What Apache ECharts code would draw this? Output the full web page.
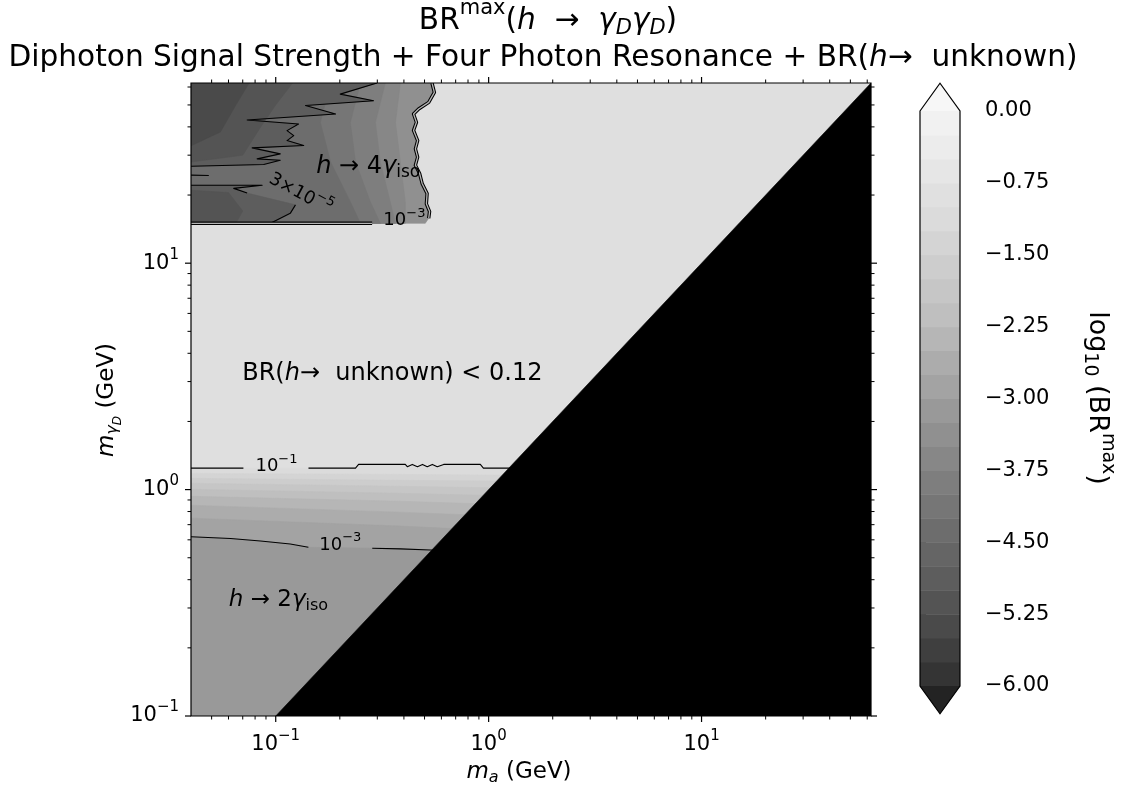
<!DOCTYPE html>
<html>
<head>
<meta charset="utf-8">
<script src="https://cdn.jsdelivr.net/npm/echarts@6/dist/echarts.min.js"></script>
<style>
  html, body { margin: 0; padding: 0; background: #ffffff; }
  #chart { width: 1129px; height: 787px; }
</style>
</head>
<body>
<div id="chart"></div>
<script>
// ---------------- axis ranges and ticks (GeV) ----------------
const maRange = [0.04, 62.5];
const mgdRange = [0.1, 62.5];
const majorTicks = [0.1, 1, 10];
const xMinorTicks = [0.05, 0.06, 0.07, 0.08, 0.09, 0.2, 0.3, 0.4, 0.5, 0.6, 0.7, 0.8, 0.9,
                     2, 3, 4, 5, 6, 7, 8, 9, 20, 30, 40, 50, 60];
const yMinorTicks = [0.2, 0.3, 0.4, 0.5, 0.6, 0.7, 0.8, 0.9,
                     2, 3, 4, 5, 6, 7, 8, 9, 20, 30, 40, 50, 60];

// colour bar: filled-contour levels of log10(BR) and labelled ticks
const cbarLevels = [-6, -5.75, -5.5, -5.25, -5, -4.75, -4.5, -4.25, -4, -3.75, -3.5, -3.25, -3,
                    -2.75, -2.5, -2.25, -2, -1.75, -1.5, -1.25, -1, -0.75, -0.5, -0.25, 0];
const cbarTicks = [0, -0.75, -1.5, -2.25, -3, -3.75, -4.5, -5.25, -6];

// ---------------- BR(h -> unknown) < 0.12 plateau ----------------
const unknownLevel = -0.92;

// ---------------- h -> 2 gamma_iso region (small m_gammaD) ----------------
// 10^-1 contour, upper edge of the region
const lowContour1 = [[0.04, 1.244], [0.237, 1.244], [0.245, 1.292], [0.406, 1.292], [0.415, 1.262],
                     [0.438, 1.292], [0.463, 1.262], [0.489, 1.292], [0.515, 1.262], [0.544, 1.292],
                     [0.574, 1.262], [0.615, 1.292], [0.914, 1.292], [0.945, 1.244], [1.3, 1.244]];
const lowContour1Gap = [0.0705, 0.1425];
// 10^-3 contour
const lowContour3 = [[0.04, 0.619], [0.0613, 0.608], [0.0848, 0.593], [0.117, 0.575], [0.1424, 0.556],
                     [0.284, 0.551], [0.385, 0.547], [0.532, 0.541], [0.7, 0.535]];
// band edges between the two contours, given at lowEdgeX
const lowEdgeX = [0.04, 0.385, 1.5];
const lowBandEdges = [
  [1.179, 1.167, 1.156],
  [1.121, 1.099, 1.088],
  [1.066, 1.034, 1.013],
  [1.003, 0.963, 0.934],
  [0.934, 0.888, 0.853],
  [0.853, 0.795, 0.756],
  [0.748, 0.690, 0.649]
];
// band values (log10 BR) below the 10^-1 contour, each edge, and the 10^-3 contour
const lowBandMid = [-1.125, -1.375, -1.625, -1.875, -2.125, -2.375, -2.625, -2.875, -3.125];

// ---------------- h -> 4 gamma_iso region (large m_gammaD, small m_a) ----------------
const upOuterRight = [[0.542, 62.5], [0.556, 56.8], [0.523, 51.3], [0.469, 48.0], [0.444, 45.6],
                      [0.458, 41.9], [0.444, 38.6], [0.464, 34.8], [0.453, 32.0], [0.464, 29.4],
                      [0.453, 27.1], [0.474, 24.9], [0.487, 22.5], [0.514, 20.3], [0.510, 18.3],
                      [0.528, 16.9], [0.523, 15.8], [0.504, 15.0]];
const upFloor = 15.0;
const upFloorGap = [0.2836, 0.504];
const upBaseMid = -3.375;
const upNodesY = [62.5, 41.9, 28.0, 18.7, 15.0];
const upBandEdges = [
  [0.385, 0.365, 0.385, 0.406, 0.406],
  [0.327, 0.294, 0.310, 0.345, 0.365],
  [0.250, 0.224, 0.237, 0.278, 0.310],
  [0.181, 0.162, 0.181, 0.224, 0.250]
];
const upBandMid = [-3.625, -3.875, -4.125, -4.375];
// 3x10^-5 contour pieces
const upC5Top = [[0.299, 62.5], [0.201, 55.8], [0.288, 52.2], [0.138, 49.7], [0.191, 45.6], [0.0734, 42.9],
                 [0.128, 41.2], [0.113, 38.5], [0.1215, 36.6], [0.113, 34.8], [0.1353, 33.1],
                 [0.0775, 32.3], [0.105, 30.4], [0.0818, 28.9], [0.105, 28.5], [0.0878, 27.3], [0.04, 26.8]];
const upC5BottomA = [[0.04, 22.1], [0.0863, 22.1], [0.0635, 21.4], [0.0734, 20.4]];
const upC5BottomB = [[0.1238, 18.1], [0.117, 16.6], [0.0997, 15.4], [0.0944, 15.0]];
const upC5Stub = [[0.04, 24.5], [0.0485, 24.4]];
const upC5Mid = -4.875;
const upDeep = [
  [[0.04, 62.5], [0.12, 62.5], [0.1, 50], [0.085, 40], [0.07, 30], [0.04, 28]],
  [[0.04, 62.5], [0.075, 62.5], [0.065, 50], [0.055, 38], [0.04, 33]],
  [[0.04, 21], [0.06, 20.5], [0.07, 17], [0.065, 15], [0.04, 15]]
];
const upDeepMid = [-5.125, -5.375, -5.125];

// kinematically closed corner m_gammaD < m_a
const closedCorner = [[0.1, 0.1], [62.5, 62.5], [62.5, 0.1]];

// in-plot labels: [x, y] in GeV
const labelPos = {
  fourIso: [0.272, 26.6],
  c5: [0.1307, 20.2],
  upC3: [0.402, 15.4],
  lowC1: [0.1008, 1.266],
  lowC3: [0.201, 0.569],
  unknown: [0.353, 3.25],
  twoIso: [0.103, 0.326]
};

// ---------------- styling helpers ----------------
const FONT = 'DejaVu Sans';
const greyRamp = [0, 37, 82, 115, 150, 189, 217, 240, 255];
function levelColour(v) {
  let t = 0.15 + 0.75 * (v + 6) / 6;
  t = Math.max(0, Math.min(1, t));
  const p = t * 8, i = Math.min(7, Math.floor(p)), f = p - i;
  const g = Math.round(greyRamp[i] + (greyRamp[i + 1] - greyRamp[i]) * f);
  return 'rgb(' + g + ',' + g + ',' + g + ')';
}
function richSet(size) {
  const s = Math.round(size * 0.7);
  const base = { fontFamily: FONT, color: '#000', fill: '#000', verticalAlign: 'middle' };
  return {
    n: Object.assign({}, base, { fontSize: size }),
    i: Object.assign({}, base, { fontSize: size, fontStyle: 'italic' }),
    sup: Object.assign({}, base, { fontSize: s, padding: [0, 0, Math.round(size * 0.8), 0] }),
    sub: Object.assign({}, base, { fontSize: s, padding: [Math.round(size * 0.5), 0, 0, 0] }),
    isub: Object.assign({}, base, { fontSize: s, fontStyle: 'italic', padding: [Math.round(size * 0.5), 0, 0, 0] }),
    iss: Object.assign({}, base, { fontSize: Math.round(size * 0.5), fontStyle: 'italic', padding: [Math.round(size * 0.95), 0, 0, 0] })
  };
}
function powLabel(v) {
  const l = Math.log10(v), e = Math.round(l);
  if (Math.abs(l - e) > 1e-6) return '';
  return '{n|10}{sup|' + (e < 0 ? '\u2212' : '') + Math.abs(e) + '}';
}

// ---------------- assemble filled regions and contour lines ----------------
const fills = [];
const strokes = [];
const [X0, X1] = maRange, [Y0, Y1] = mgdRange;

fills.push({ pts: [[X0, Y0], [X1, Y0], [X1, Y1], [X0, Y1]], fill: levelColour(unknownLevel) });

// low region bands
const lowTops = [lowContour1].concat(lowBandEdges.map(r => r.map((y, j) => [lowEdgeX[j], y]))).concat([lowContour3]);
lowTops.forEach((top, k) => {
  const pts = top.concat([[top[top.length - 1][0], Y0], [top[0][0], Y0]]);
  fills.push({ pts: pts, fill: levelColour(lowBandMid[k]) });
});

// high region
const upOuter = [[X0, Y1]].concat(upOuterRight).concat([[X0, upFloor]]);
fills.push({ pts: upOuter, fill: levelColour(upBaseMid) });
upBandEdges.forEach((row, k) => {
  const pts = [[X0, Y1]].concat(row.map((x, j) => [x, upNodesY[j]])).concat([[X0, upFloor]]);
  fills.push({ pts: pts, fill: levelColour(upBandMid[k]) });
});
fills.push({ pts: [[X0, Y1]].concat(upC5Top), fill: levelColour(upC5Mid) });
fills.push({ pts: upC5BottomA.concat(upC5BottomB).concat([[X0, upFloor]]), fill: levelColour(upC5Mid) });
upDeep.forEach((poly, k) => fills.push({ pts: poly, fill: levelColour(upDeepMid[k]) }));

// contour lines
const thin = 1.1;
strokes.push({ pts: lowContour1.filter(p => p[0] <= lowContour1Gap[0]).concat([[lowContour1Gap[0], lowContour1[0][1]]]), w: thin });
strokes.push({ pts: [[lowContour1Gap[1], lowContour1[0][1]]].concat(lowContour1.filter(p => p[0] >= lowContour1Gap[1])), w: thin });
strokes.push({ pts: lowContour3.slice(0, 5), w: thin });
strokes.push({ pts: lowContour3.slice(5), w: thin });
strokes.push({ pts: upC5Top, w: thin });
strokes.push({ pts: upC5BottomA, w: thin });
strokes.push({ pts: upC5BottomB, w: thin });
strokes.push({ pts: upC5Stub, w: thin });
// the 10^-1 and 10^-3 contours run side by side around the high region
const outerA = upOuterRight.slice(0, upOuterRight.length - 1);
const outerB = [[upFloorGap[0], upFloor], [X0, upFloor]];
[outerA, outerB].forEach(p => {
  strokes.push({ pts: p, w: 3.4, c: '#000' });
  strokes.push({ pts: p, w: 1.3, c: '#b4b4b4' });
});

const shapes = fills.concat(strokes.map(s => ({ pts: s.pts, stroke: s.c || '#000', w: s.w })))
  .concat([{ pts: closedCorner, fill: '#000' }]);

// ---------------- in-plot text ----------------
const r23 = richSet(23), r24 = richSet(24), r18 = richSet(18);
const plotLabels = [
  { pos: labelPos.fourIso, text: '{i|h}{n| \u2192 4}{i|\u03b3}{sub|iso}', rich: r24, rot: 0 },
  { pos: labelPos.c5, text: '{n|3\u00d710}{sup|\u22125}', rich: r18, rot: -0.49 },
  { pos: labelPos.upC3, text: '{n|10}{sup|\u22123}', rich: r18, rot: 0 },
  { pos: labelPos.lowC1, text: '{n|10}{sup|\u22121}', rich: r18, rot: 0 },
  { pos: labelPos.lowC3, text: '{n|10}{sup|\u22123}', rich: r18, rot: 0 },
  { pos: labelPos.unknown, text: '{n|BR(}{i|h}{n|\u2192  unknown) < 0.12}', rich: r24, rot: 0 },
  { pos: labelPos.twoIso, text: '{i|h}{n| \u2192 2}{i|\u03b3}{sub|iso}', rich: r23, rot: 0 }
];

const tickRich = richSet(21);
const chart = echarts.init(document.getElementById('chart'), null, { renderer: 'canvas' });

const option = {
  animation: false,
  backgroundColor: '#ffffff',
  grid: [
    { left: 191, top: 83, width: 680, height: 633 },
    { left: 920, top: 111, width: 40, height: 575 }
  ],
  xAxis: [
    { type: 'log', logBase: 10, gridIndex: 0, min: X0, max: X1,
      axisLine: { show: false }, axisTick: { show: false }, splitLine: { show: false },
      axisLabel: { formatter: powLabel, rich: tickRich, margin: 13, color: '#000', fontFamily: FONT, fontSize: 21 } },
    { type: 'value', gridIndex: 1, min: 0, max: 1, show: false }
  ],
  yAxis: [
    { type: 'log', logBase: 10, gridIndex: 0, min: Y0, max: Y1,
      axisLine: { show: false }, axisTick: { show: false }, splitLine: { show: false },
      axisLabel: { formatter: powLabel, rich: tickRich, margin: 12, color: '#000', fontFamily: FONT, fontSize: 21 } },
    { type: 'value', gridIndex: 1, min: -6, max: 0, interval: 0.75, position: 'right',
      axisLine: { show: false }, splitLine: { show: false },
      axisTick: { show: true, length: 6, lineStyle: { color: '#000', width: 1.2 } },
      axisLabel: { margin: 25, color: '#000', fontFamily: FONT, fontSize: 21,
        formatter: v => (v < 0 ? '\u2212' : '') + Math.abs(v).toFixed(2) } }
  ],
  series: [
    { // filled regions, contour lines and closed corner
      type: 'custom', coordinateSystem: 'cartesian2d', xAxisIndex: 0, yAxisIndex: 0,
      silent: true, clip: true,
      data: shapes.map((s, i) => [1, 1, i]),
      encode: { x: 0, y: 1 },
      renderItem: (params, api) => {
        const s = shapes[params.dataIndex];
        const pts = s.pts.map(p => api.coord(p));
        if (s.fill) {
          return { type: 'polygon', shape: { points: pts }, style: { fill: s.fill, stroke: s.fill, lineWidth: 0.6 } };
        }
        return { type: 'polyline', shape: { points: pts }, style: { fill: null, stroke: s.stroke, lineWidth: s.w, lineJoin: 'round' } };
      }
    },
    { // labels inside the plot
      type: 'custom', coordinateSystem: 'cartesian2d', xAxisIndex: 0, yAxisIndex: 0,
      silent: true,
      data: plotLabels.map((l, i) => [1, 1, i]),
      encode: { x: 0, y: 1 },
      renderItem: (params, api) => {
        const l = plotLabels[params.dataIndex];
        const c = api.coord(l.pos);
        return { type: 'text', x: c[0], y: c[1], rotation: l.rot,
          style: { text: l.text, rich: l.rich, align: 'center', verticalAlign: 'middle' } };
      }
    },
    { // frame and ticks on all four sides
      type: 'custom', coordinateSystem: 'cartesian2d', xAxisIndex: 0, yAxisIndex: 0,
      silent: true, clip: false,
      data: [[1, 1]],
      renderItem: (params, api) => {
        const ch = [];
        const a = api.coord([X0, Y0]), b = api.coord([X1, Y1]);
        const L = a[0], B = a[1], R = b[0], T = b[1];
        const ln = (x1, y1, x2, y2, w) => ch.push({ type: 'line', shape: { x1, y1, x2, y2 }, style: { stroke: '#000', lineWidth: w } });
        majorTicks.forEach(v => {
          const x = api.coord([v, Y0])[0];
          ln(x, B, x, B + 6, 1.2); ln(x, T, x, T - 6, 1.2);
          const y = api.coord([X0, v])[1];
          if (v > Y0 - 1e-9) { ln(L, y, L - 6, y, 1.2); ln(R, y, R + 6, y, 1.2); }
        });
        xMinorTicks.forEach(v => {
          const x = api.coord([v, Y0])[0];
          ln(x, B, x, B + 3.5, 1); ln(x, T, x, T - 3.5, 1);
        });
        yMinorTicks.forEach(v => {
          const y = api.coord([X0, v])[1];
          ln(L, y, L - 3.5, y, 1); ln(R, y, R + 3.5, y, 1);
        });
        ch.push({ type: 'rect', shape: { x: L, y: T, width: R - L, height: B - T }, style: { fill: null, stroke: '#000', lineWidth: 1.2 } });
        return { type: 'group', children: ch };
      }
    },
    { // colour bar with extension arrows
      type: 'custom', coordinateSystem: 'cartesian2d', xAxisIndex: 1, yAxisIndex: 1,
      silent: true, clip: false,
      data: [[0.5, -3]],
      renderItem: (params, api) => {
        const ch = [];
        for (let k = 0; k < cbarLevels.length - 1; k++) {
          const p0 = api.coord([0, cbarLevels[k]]), p1 = api.coord([1, cbarLevels[k + 1]]);
          ch.push({ type: 'rect', shape: { x: p0[0], y: p1[1], width: p1[0] - p0[0], height: p0[1] - p1[1] + 0.5 },
            style: { fill: levelColour((cbarLevels[k] + cbarLevels[k + 1]) / 2) } });
        }
        const top = [[0, 0], [0.5, 0.29], [1, 0]].map(p => api.coord(p));
        const bot = [[0, -6], [0.5, -6.29], [1, -6]].map(p => api.coord(p));
        ch.push({ type: 'polygon', shape: { points: top }, style: { fill: levelColour(0.25) } });
        ch.push({ type: 'polygon', shape: { points: bot }, style: { fill: levelColour(-6.25) } });
        const outline = [[0, 0], [0.5, 0.29], [1, 0], [1, -6], [0.5, -6.29], [0, -6]].map(p => api.coord(p));
        ch.push({ type: 'polygon', shape: { points: outline }, style: { fill: null, stroke: '#000', lineWidth: 1.2 } });
        return { type: 'group', children: ch };
      }
    }
  ],
  graphic: [
    { type: 'text', x: 548, y: 21, silent: true,
      style: { text: '{n|BR}{sup|max}{n|(}{i|h}{n|  \u2192  }{i|\u03b3}{isub|D}{i|\u03b3}{isub|D}{n|)}', rich: richSet(29.6), align: 'center', verticalAlign: 'middle' } },
    { type: 'text', x: 543, y: 58, silent: true,
      style: { text: '{n|Diphoton Signal Strength + Four Photon Resonance + BR(}{i|h}{n|\u2192  unknown)}', rich: richSet(29.6), align: 'center', verticalAlign: 'middle' } },
    { type: 'text', x: 519, y: 772, silent: true,
      style: { text: '{i|m}{isub|a}{n| (GeV)}', rich: richSet(23), align: 'center', verticalAlign: 'middle' } },
    { type: 'text', x: 107, y: 400, rotation: Math.PI / 2, silent: true,
      style: { text: '{i|m}{isub|\u03b3}{iss|D}{n| (GeV)}', rich: richSet(23), align: 'center', verticalAlign: 'middle' } },
    { type: 'text', x: 1097, y: 398, rotation: -Math.PI / 2, silent: true,
      style: { text: '{n|log}{sub|10}{n| (BR}{sup|max}{n|)}', rich: richSet(27), align: 'center', verticalAlign: 'middle' } }
  ]
};
chart.setOption(option);
</script>
</body>
</html>
